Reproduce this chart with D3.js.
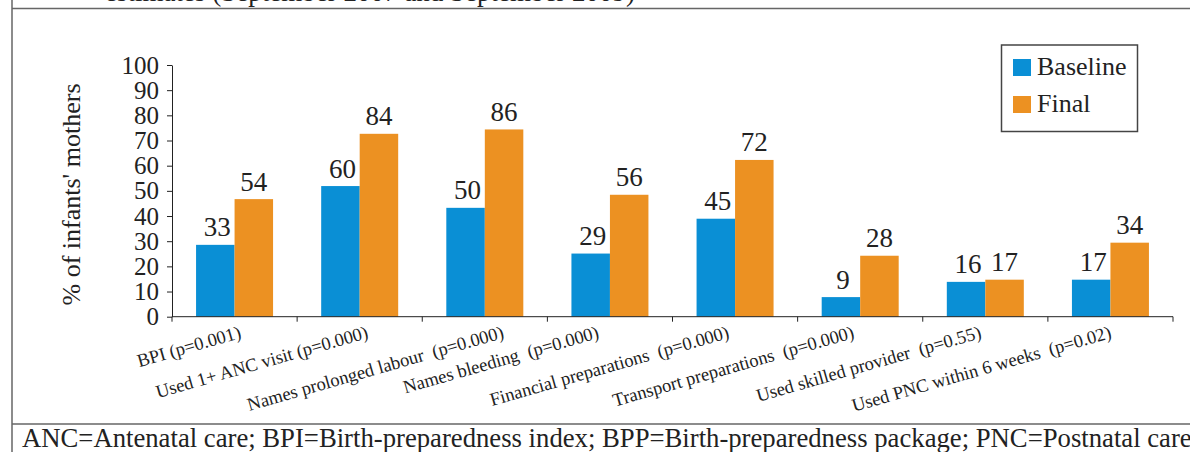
<!DOCTYPE html>
<html>
<head>
<meta charset="utf-8">
<script src="https://cdn.jsdelivr.net/npm/d3@7"></script>
<style>
  html, body { margin: 0; padding: 0; background: #fff; }
  svg { display: block; }
</style>
</head>
<body>
<svg id="chart" width="1190" height="452" font-family="Liberation Serif, serif"></svg>
<script>
// ---- data ----
const categories = [
  "BPI (p=0.001)",
  "Used 1+ ANC visit (p=0.000)",
  "Names prolonged labour  (p=0.000)",
  "Names bleeding  (p=0.000)",
  "Financial preparations  (p=0.000)",
  "Transport preparations  (p=0.000)",
  "Used skilled provider  (p=0.55)",
  "Used PNC within 6 weeks  (p=0.02)"
];
const seriesNames = ["Baseline", "Final"];
const baselineValues = [33, 60, 50, 29, 45, 9, 16, 17];
const finalValues = [54, 84, 86, 56, 72, 28, 17, 34];
const yTickValues = [0, 10, 20, 30, 40, 50, 60, 70, 80, 90, 100];
const yAxisTitle = "% of infants' mothers";
const topText = "estimates (September 2007 and September 2009)";
const footnote = "ANC=Antenatal care; BPI=Birth-preparedness index; BPP=Birth-preparedness package; PNC=Postnatal care";

// ---- layout ----
const FONT = "'Liberation Serif', 'Times New Roman', serif";
const INK = "#222";
const svg = d3.select("#chart");
const colors = ["#0a8fd5", "#ec9122"];
const x0 = 172, x1 = 1173, yBase = 316.7, yTop = 65;
// horizontal nudges of the rotated category labels (as placed in the original)
const labelNudge = [7.5, 9.5, 20, -10, -5, -5, -3, 2];

const x = d3.scaleBand().domain(categories).range([x0, x1]).paddingInner(0).paddingOuter(0);
const y = d3.scaleLinear().domain([0, 100]).range([yBase, yTop]);
// bars in the original are drawn on a compressed scale relative to the printed axis
const yBar = d3.scaleLinear().domain([0, 115.6]).range([yBase, yTop]);
const barW = 38.5;

function txt(sel, size) {
  return sel.style("font-family", FONT).attr("font-size", size).attr("fill", INK);
}

// frame lines
svg.append("line").attr("x1", 12).attr("x2", 1190).attr("y1", 8.5).attr("y2", 8.5)
  .attr("stroke", "#666").attr("stroke-width", 1.5);
svg.append("line").attr("x1", 12).attr("x2", 12).attr("y1", 0).attr("y2", 452)
  .attr("stroke", "#666").attr("stroke-width", 1.5);
svg.append("line").attr("x1", 12).attr("x2", 1190).attr("y1", 424).attr("y2", 424)
  .attr("stroke", "#666").attr("stroke-width", 1.5);

// cut-off heading text at top (as in the reference)
txt(svg.append("text").attr("x", 105).attr("y", 1), 27).text(topText);

// footnote
txt(svg.append("text").attr("x", 22).attr("y", 447), 26.7).text(footnote);

// bars
const data = categories.map((c, i) => ({ c, vals: [baselineValues[i], finalValues[i]] }));
const groups = svg.append("g").selectAll("g").data(data).join("g")
  .attr("transform", d => `translate(${x(d.c) + x.bandwidth() / 2 - barW},0)`);
groups.selectAll("rect").data(d => d.vals).join("rect")
  .attr("x", (v, j) => j * barW)
  .attr("width", barW)
  .attr("y", v => yBar(v))
  .attr("height", v => yBase - yBar(v))
  .attr("fill", (v, j) => colors[j]);
txt(groups.selectAll("text.val").data(d => d.vals).join("text"), 27)
  .attr("class", "val")
  .attr("x", (v, j) => j * barW + barW / 2 + (j === 0 ? 2 : 0))
  .attr("y", v => yBar(v) - 8.5)
  .attr("text-anchor", "middle")
  .text(v => v);

// y axis
const yAxis = d3.axisLeft(y).tickValues(yTickValues).tickSize(5).tickSizeOuter(0).tickPadding(8);
const gy = svg.append("g").attr("transform", `translate(${x0},0)`).call(yAxis);
gy.attr("font-family", null);
txt(gy.selectAll("text"), 25);
gy.selectAll("line, path").attr("stroke", INK);

// x axis (ticks at band boundaries)
const gx = svg.append("g");
gx.append("line").attr("x1", x0).attr("x2", x1).attr("y1", yBase).attr("y2", yBase).attr("stroke", INK);
const boundaries = categories.map(c => x(c)).concat([x1]);
gx.selectAll("line.tk").data(boundaries).join("line").attr("class", "tk")
  .attr("x1", d => d).attr("x2", d => d).attr("y1", yBase).attr("y2", yBase + 5).attr("stroke", INK);
txt(gx.selectAll("text").data(categories).join("text"), 18.5)
  .attr("transform", (c, i) => `translate(${x(c) + x.bandwidth() / 2 + labelNudge[i]},${yBase + 21}) rotate(-16)`)
  .attr("text-anchor", "end")
  .style("white-space", "pre")
  .text(c => c);

// y axis title
txt(svg.append("text"), 26)
  .attr("transform", `translate(80,194.5) rotate(-90)`)
  .attr("text-anchor", "middle")
  .text(yAxisTitle);

// legend
const lg = svg.append("g");
lg.append("rect").attr("x", 1001.5).attr("y", 45).attr("width", 136).attr("height", 86.5)
  .attr("fill", "#fff").attr("stroke", "#444").attr("stroke-width", 1.5);
seriesNames.forEach((s, i) => {
  lg.append("rect").attr("x", 1013).attr("y", 59 + i * 37).attr("width", 18).attr("height", 17).attr("fill", colors[i]);
  txt(lg.append("text").attr("x", 1037).attr("y", 75 + i * 37), 26).text(s);
});
</script>
</body>
</html>
